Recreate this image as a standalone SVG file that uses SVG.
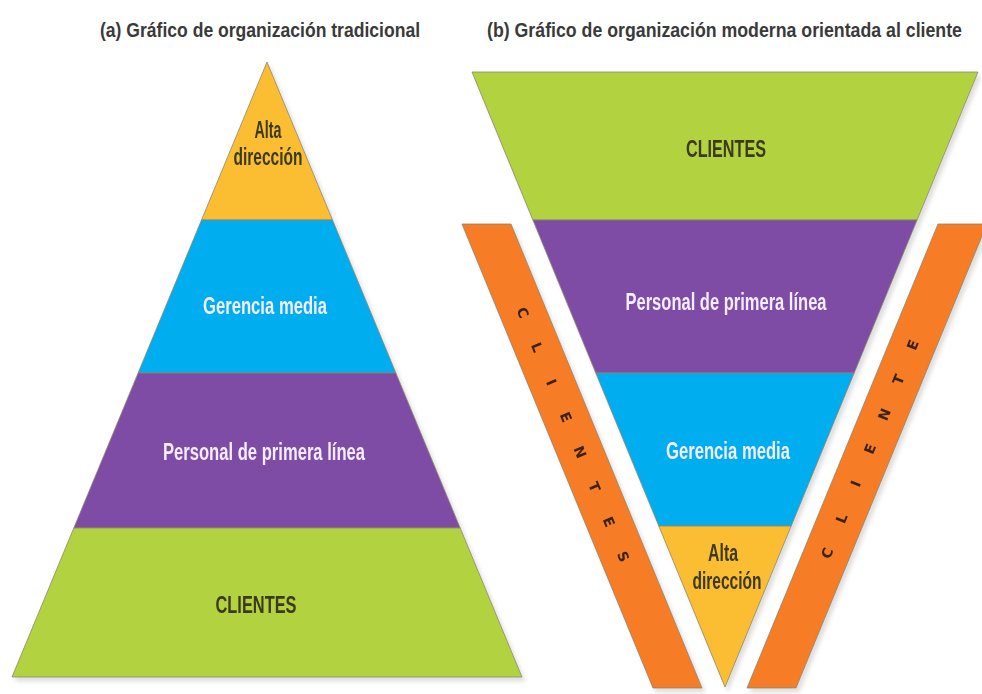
<svg xmlns="http://www.w3.org/2000/svg" width="982" height="694" viewBox="0 0 982 694">
<defs>
<filter id="sh" x="-5%" y="-5%" width="112%" height="112%">
<feDropShadow dx="3" dy="4" stdDeviation="2" flood-color="#000" flood-opacity="0.13"/>
</filter>
</defs>
<style>
.band{stroke:#8c8670;stroke-width:0.8;stroke-linejoin:round}
.yel{fill:#FBBD32}
.blu{fill:#00AEEF}
.pur{fill:#7E4CA5}
.grn{fill:#B3D23F}
.org{fill:#F77B27}
.lbl{font-family:"Liberation Sans",Arial,sans-serif;font-weight:bold;font-size:23px;text-anchor:middle}
.dark{fill:#3b3a1c}
.light{fill:#F4ECFF}
.title{font-family:"Liberation Sans",Arial,sans-serif;font-weight:bold;font-size:21px;fill:#3a3a3a}
.bar{font-family:"DejaVu Sans",Verdana,sans-serif;font-weight:bold;font-size:14px;fill:#3a2414;text-anchor:middle}
</style>
<rect width="982" height="694" fill="#ffffff"/>

<g id="titles">
<text class="title" transform="translate(100,37) scale(0.75,1)" x="0" y="0" textLength="426.7" lengthAdjust="spacingAndGlyphs">(a) Gráfico de organización tradicional</text>
<text class="title" transform="translate(487,37) scale(0.75,1)" x="0" y="0" textLength="633.3" lengthAdjust="spacingAndGlyphs">(b) Gráfico de organización moderna orientada al cliente</text>
</g>

<g id="pyramid-a" filter="url(#sh)">
<g id="a-alta">
<polygon class="band yel" points="267,62 332.5,220 201.5,220"/>
<text class="lbl dark" x="268" y="138" textLength="27" lengthAdjust="spacingAndGlyphs">Alta</text>
<text class="lbl dark" x="268" y="165" textLength="69" lengthAdjust="spacingAndGlyphs">dirección</text>
</g>
<g id="a-gerencia">
<polygon class="band blu" points="201.5,220 332.5,220 395.9,373 138.1,373"/>
<text class="lbl light" x="265" y="314" textLength="124" lengthAdjust="spacingAndGlyphs">Gerencia media</text>
</g>
<g id="a-personal">
<polygon class="band pur" points="138.1,373 395.9,373 460.2,528 73.8,528"/>
<text class="lbl light" x="264" y="460" textLength="202" lengthAdjust="spacingAndGlyphs">Personal de primera línea</text>
</g>
<g id="a-clientes">
<polygon class="band grn" points="73.8,528 460.2,528 522,677 12,677"/>
<text class="lbl dark" x="256" y="613" textLength="81" lengthAdjust="spacingAndGlyphs">CLIENTES</text>
</g>
</g>

<g id="pyramid-b" filter="url(#sh)">
<g id="b-clientes">
<polygon class="band grn" points="472,72 978,72 917.1,220 532.9,220"/>
<text class="lbl dark" x="726" y="157" textLength="80" lengthAdjust="spacingAndGlyphs">CLIENTES</text>
</g>
<g id="b-personal">
<polygon class="band pur" points="532.9,220 917.1,220 854.2,373 595.8,373"/>
<text class="lbl light" x="726" y="310" textLength="201" lengthAdjust="spacingAndGlyphs">Personal de primera línea</text>
</g>
<g id="b-gerencia">
<polygon class="band blu" points="595.8,373 854.2,373 791.2,526 658.8,526"/>
<text class="lbl light" x="728" y="459" textLength="124" lengthAdjust="spacingAndGlyphs">Gerencia media</text>
</g>
<g id="b-alta">
<polygon class="band yel" points="658.8,526 791.2,526 725,687"/>
<text class="lbl dark" x="723" y="561" textLength="30" lengthAdjust="spacingAndGlyphs">Alta</text>
<text class="lbl dark" x="727" y="589" textLength="69" lengthAdjust="spacingAndGlyphs">dirección</text>
</g>
</g>

<g id="bar-left" filter="url(#sh)">
<polygon class="band org" points="462,224 511,224 702,688 653,688"/>
<text class="bar" transform="translate(573,434.5) rotate(67.64)" x="-131.95 -94.25 -56.55 -18.85 18.85 56.55 94.25 131.95" y="5">CLIENTES</text>
</g>

<g id="bar-right" filter="url(#sh)">
<polygon class="band org" points="938,224 987,224 796,688 747,688"/>
<text class="bar" transform="translate(870,449) rotate(-67.64)" x="-112.5 -75 -37.5 0 37.5 75 112.5" y="5">CLIENTE</text>
</g>

<g id="connectors"></g>
</svg>
